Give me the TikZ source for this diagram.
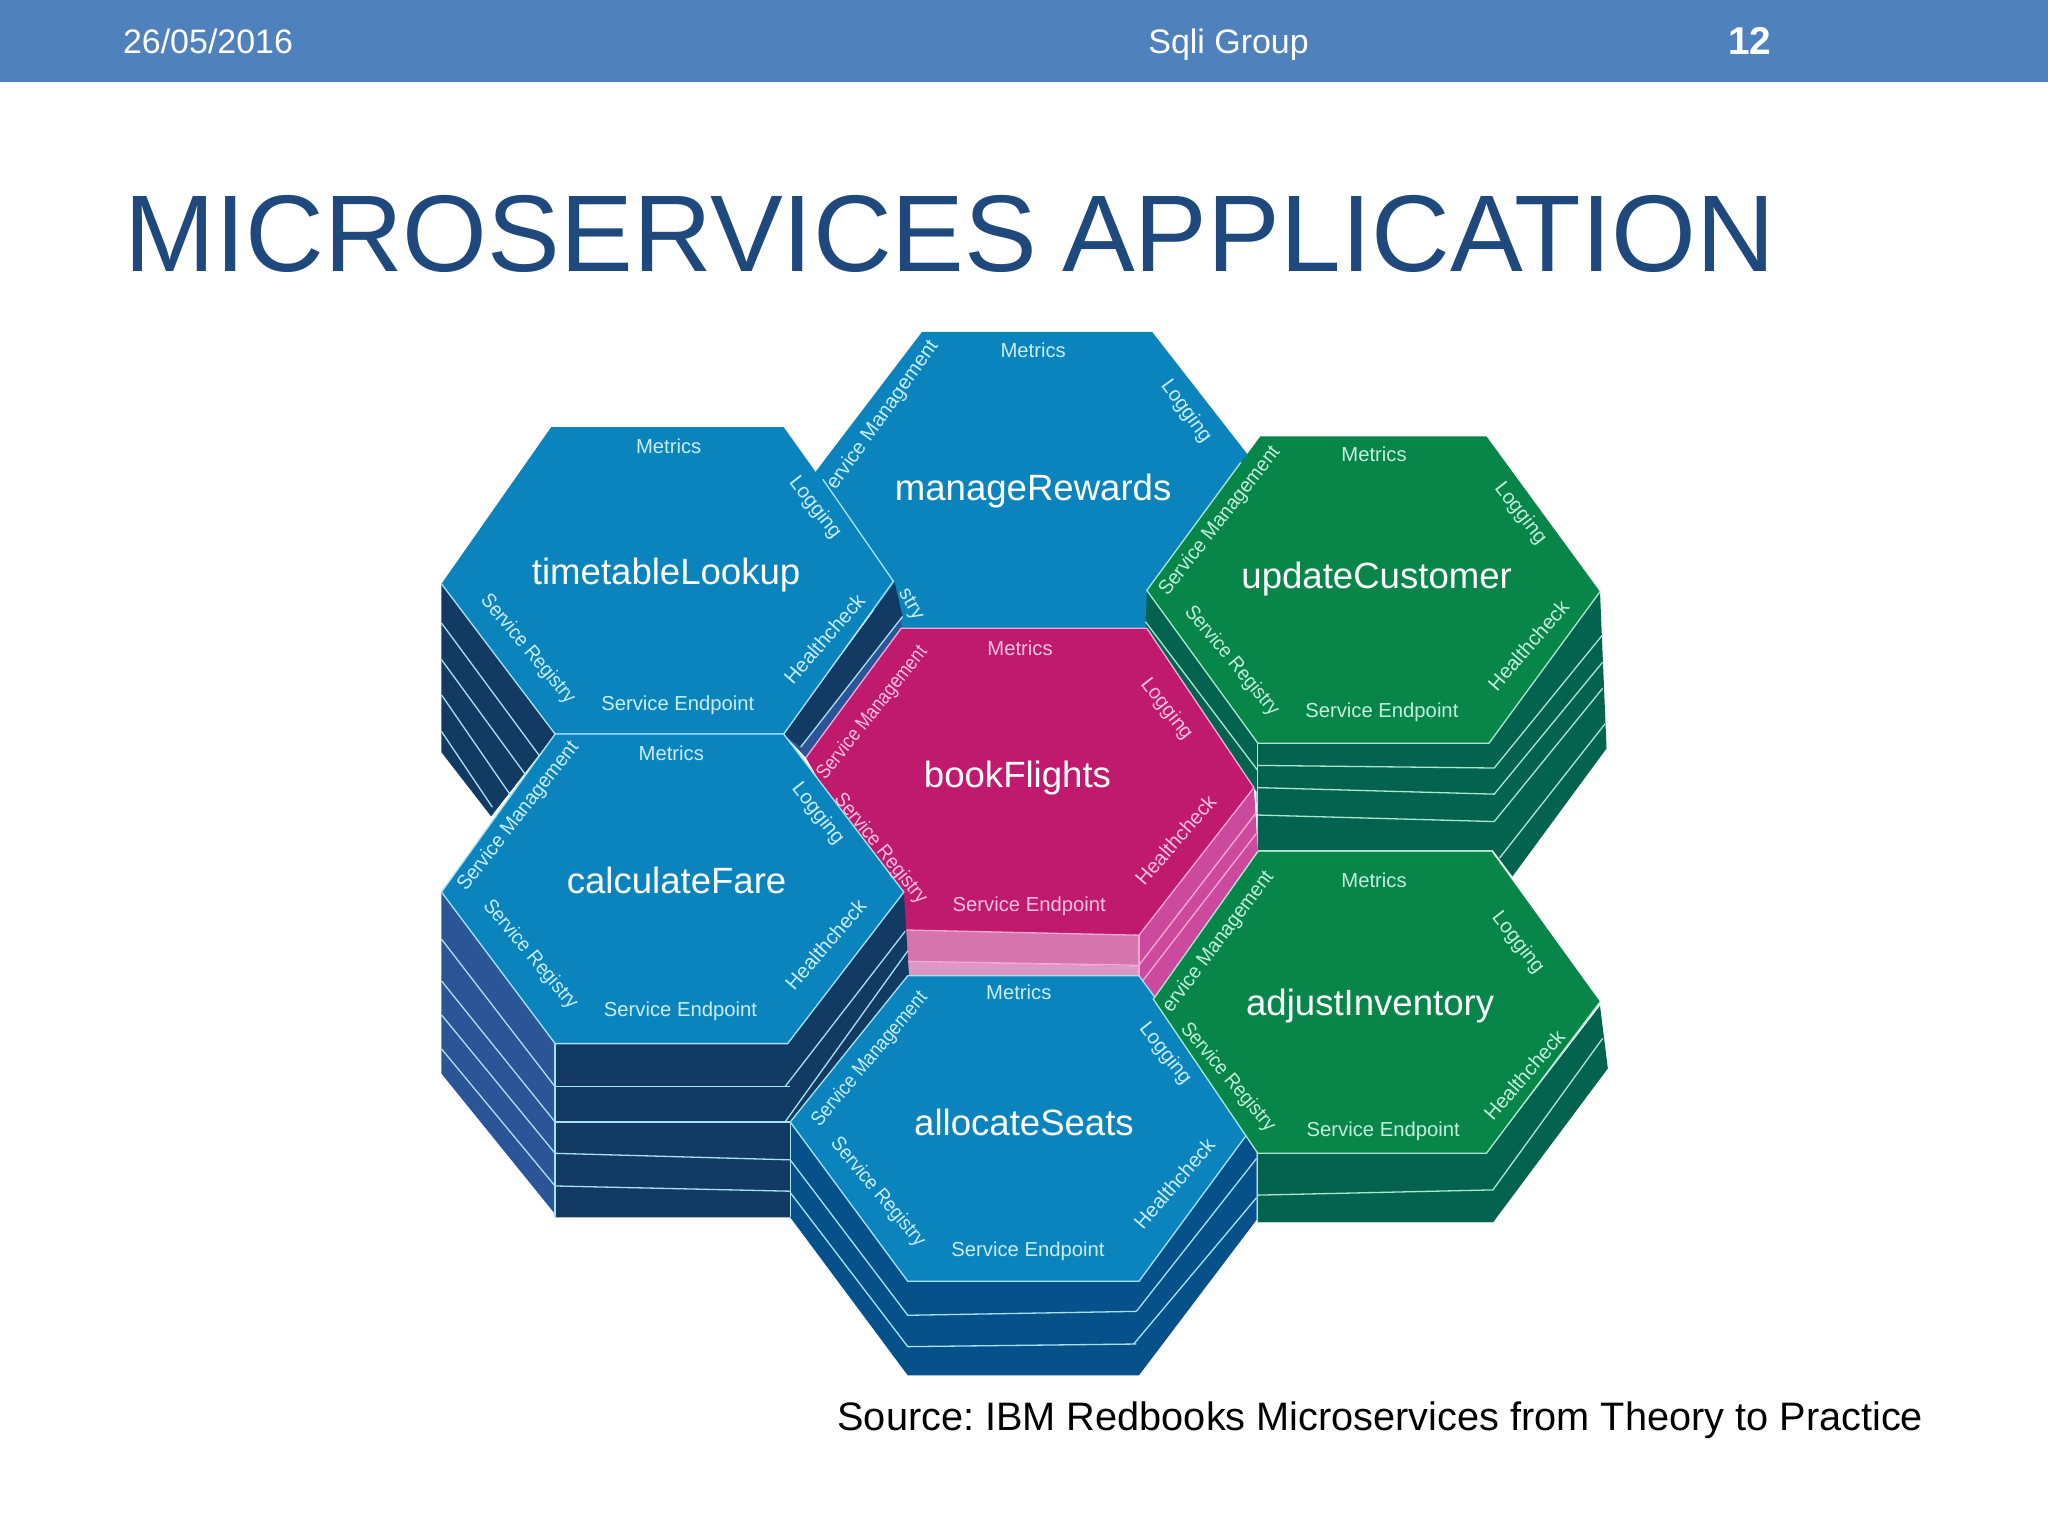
\documentclass[tikz,border=0pt]{standalone}
\usepackage{fontspec}
\setmainfont{Liberation Sans}
\newfontfamily\titlefont[WordSpace=0.82]{Liberation Sans}
\definecolor{bandblue}{HTML}{4F81BD}
\definecolor{titleblue}{HTML}{1F497D}
\definecolor{hexblue}{HTML}{0B84BD}
\definecolor{hexnavy}{HTML}{133A63}
\definecolor{hexslate}{HTML}{2B5596}
\definecolor{hexdeep}{HTML}{07518B}
\definecolor{hexgreen}{HTML}{08864A}
\definecolor{hexteal}{HTML}{04634F}
\definecolor{hexpink}{HTML}{BF1A6D}
\definecolor{pinkside}{HTML}{CC4A9E}
\definecolor{pinkfront}{HTML}{D574AD}
\definecolor{pinklow}{HTML}{DB97C5}
\definecolor{rimblue}{HTML}{A5E2F2}
\definecolor{rimgreen}{HTML}{A8E8D0}
\definecolor{rimpink}{HTML}{F7A8D8}
\tikzset{
	rim/.style={draw=rimblue,line width=1pt},
	rimg/.style={draw=rimgreen,line width=1pt},
	rimp/.style={draw=rimpink,line width=1pt},
	svcname/.style={text=white,font=\fontsize{28}{30}\selectfont,inner sep=0pt},
	svcpart/.style={text=rimblue!60!white,font=\fontsize{15.5}{17}\selectfont,inner sep=0pt},
	svcpartg/.style={svcpart,text=rimgreen!70!white},
	svcpartp/.style={svcpart,text=rimpink!70!white},
}
\begin{document}
\begin{tikzpicture}[x=1pt,y=-1pt]
	\useasboundingbox (0,0) rectangle (1568,1176);
	%% header band and title
	\fill[bandblue] (0,0) rectangle (1568,62.5);
	\node[text=white,font=\fontsize{26}{28}\selectfont,inner sep=0pt,anchor=base west] (date) at (94,41) {26/05/2016};
	\node[text=white,font=\fontsize{26}{28}\selectfont,inner sep=0pt,anchor=base west] (group) at (879,41) {Sqli Group};
	\node[text=white,font=\fontsize{29.7}{31}\selectfont\bfseries,inner sep=0pt,anchor=base west] (page) at (1323,42) {12};
	\node[text=titleblue,font=\titlefont\fontsize{83.5}{90}\selectfont,inner sep=0pt,anchor=base west] (title) at (95,208) {MICROSERVICES APPLICATION};
	\node[text=black,font=\frenchspacing\fontsize{30.4}{33}\selectfont,inner sep=0pt,anchor=base west] (source) at (641,1095) {Source: IBM Redbooks Microservices from Theory to Practice};

	%% manageRewards
	\fill[hexblue] (706,254) -- (882,254) -- (970,367) -- (880,485) -- (680,490) -- (620,367) -- cycle;
	\node[svcpart] (mr1) at (791,268) {Metrics};
	\node[svcpart,rotate=-54] (mr2) at (908,315) {Logging};
	\node[svcpart,rotate=54.6] (mr3) at (676,318) {ervice Management};
	\node[svcname] (mr4) at (791,376) {manageRewards};
	\node[svcpart,rotate=-60] (mr5) at (697,463) {stry};

	%% updateCustomer
	\fill[hexteal] (878,452) -- (877,484) -- (962,606) -- (963,651) -- (1143,651) -- (1158,671) -- (1230,573) -- (1225,453) -- cycle;
	\foreach \ya/\yb/\yc in {586/588/486,603/608/507,624/629/527}
		\draw[rimg] (963,\ya) -- (1144,\yb) -- (1227,\yc);
	\draw[rimg] (1148,657) -- (1229,554);
	\draw[rimg] (877,476) -- (963,590);
	\fill[hexgreen] (965,334) -- (1138,334) -- (1225,453) -- (1140,569) -- (963,569) -- (878,452) -- cycle;
	\draw[rimg] (950,354) -- (878,452) -- (963,569) -- (1140,569) -- (1225,453);
	\draw[rimg] (963,569) -- (963,651) -- (1143,651);
	\node[svcpartg] (uc1) at (1052,348) {Metrics};
	\node[svcpartg,rotate=-52] (uc2) at (1164,393) {Logging};
	\node[svcpartg,rotate=52,xscale=.96] (uc3) at (934,399) {Service Management};
	\node[svcname] (uc4) at (1054,443) {updateCustomer};
	\node[svcpartg,rotate=-50,xscale=.92] (uc5) at (943,506) {Service Registry};
	\node[svcpartg] (uc6) at (1058,545) {Service Endpoint};
	\node[svcpartg,rotate=49] (uc7) at (1170,494) {Healthcheck};

	%% timetableLookup
	\fill[hexnavy] (338,447) -- (338,576) -- (376,625) -- (425,562) -- cycle;
	\foreach \ya/\xb/\yb in {477/417/584,505/403/594,532/391/609,560/377/618}
		\draw[rim] (338,\ya) -- (\xb,\yb);
	\fill[hexslate] (685,446) -- (691,482) -- (617,580) -- (600,562) -- cycle;
	\fill[hexnavy] (685,446) -- (691,472) -- (613,572) -- (600,562) -- cycle;
	\draw[rim] (691,472) -- (613,572);
	\fill[hexblue] (422,327) -- (600,327) -- (684,445) -- (600,562) -- (425,562) -- (338,447) -- cycle;
	\draw[rim] (630,367) -- (684,445) -- (600,562) -- (425,562) -- (338,447);
	\node[svcpart] (tl1) at (512,342) {Metrics};
	\node[svcpart,rotate=-52] (tl2) at (624,389) {Logging};
	\node[svcname] (tl3) at (510,440) {timetableLookup};
	\node[svcpart,rotate=-50,xscale=.92] (tl4) at (404,497) {Service Registry};
	\node[svcpart] (tl5) at (519,540) {Service Endpoint};
	\node[svcpart,rotate=49] (tl6) at (631,489) {Healthcheck};

	%% bookFlights
	\fill[pinkside] (872,716) -- (960,603) -- (963,651) -- (883,765) -- (872,747) -- cycle;
	\fill[pinkfront] (693,712) -- (872,716) -- (872,740) -- (695,736) -- cycle;
	\fill[pinklow] (695,736) -- (872,740) -- (872,747) -- (695,747) -- cycle;
	\draw[rimp] (695,736) -- (872,739) -- (962,622);
	\draw[rimp] (874,752) -- (962,638);
	\fill[hexpink] (690,481) -- (878,481) -- (960,603) -- (872,716) -- (693,712) -- (617,580) -- cycle;
	\draw[rimp] (617,580) -- (690,481) -- (878,481) -- (960,603) -- (872,716) -- (693,712);
	\draw[rimp] (872,716) -- (872,747);

	%% calculateFare
	\fill[hexslate] (338,683) -- (338,822) -- (427,932) -- (427,799) -- cycle;
	\foreach \ya/\yb in {719/832,751/859,777/883,803/908}
		\draw[rim] (338,\ya) -- (425,\yb);
	\fill[hexnavy] (425,799) -- (425,932) -- (606,932) -- (606,862) -- (696,748) -- (692,683) -- (603,799) -- cycle;
	\foreach \ya/\yb in {832/832,859/859,883/888,908/912}
		\draw[rim] (425,\ya) -- (605,\yb);
	\draw[rim] (601,832) -- (693,713);
	\draw[rim] (601,859) -- (695,728);
	\fill[hexblue] (425,562) -- (600,562) -- (692,683) -- (603,799) -- (425,799) -- (338,683) -- cycle;
	\draw[rim] (425,562) -- (600,562) -- (692,683) -- (603,799) -- (425,799) -- (338,683) -- cycle;
	\draw[rim] (425,799) -- (425,932);
	\node[svcpart] (cf1) at (514,577) {Metrics};
	\node[svcpart,rotate=-52] (cf2) at (626,623) {Logging};
	\node[svcpart,rotate=52,xscale=.96] (cf3) at (397,625) {Service Management};
	\node[svcname] (cf4) at (518,674) {calculateFare};
	\node[svcpart,rotate=-50,xscale=.92] (cf5) at (406,731) {Service Registry};
	\node[svcpart] (cf6) at (521,774) {Service Endpoint};
	\node[svcpart,rotate=49] (cf7) at (632,723) {Healthcheck};

	% labels of bookFlights come after calculateFare
	\node[svcpartp] (bf1) at (781,496) {Metrics};
	\node[svcpartp,rotate=-52] (bf2) at (893,543) {Logging};
	\node[svcpartp,rotate=51.5,xscale=.86] (bf3) at (668,546) {Service Management};
	\node[svcname] (bf4) at (779,596) {bookFlights};
	\node[svcpartp,rotate=-51,xscale=.92] (bf5) at (674,650) {Service Registry};
	\node[svcpartp] (bf6) at (788,694) {Service Endpoint};
	\node[svcpartp,rotate=49] (bf7) at (900,643) {Healthcheck};

	%% allocateSeats
	\fill[hexdeep] (605,859) -- (605,932) -- (695,1053) -- (872,1053) -- (962,934) -- (962,871) -- (958,860) -- (872,981) -- (695,981) -- cycle;
	\foreach \ya/\yb/\yc in {888/1007/1004,913/1031/1029}
		\draw[rim] (605,\ya) -- (695,\yb) -- (870,\yc);
	\draw[rim] (870,1004) -- (962,887);
	\draw[rim] (868,1029) -- (962,917);
	\fill[hexblue] (695,747) -- (872,747) -- (958,864) -- (872,981) -- (695,981) -- (605,859) -- cycle;
	\draw[rim] (695,747) -- (872,747) -- (958,864) -- (872,981) -- (695,981) -- (605,859) -- cycle;
	\draw[rim] (605,859) -- (605,932);
	\node[svcpart] (as1) at (780,760) {Metrics};
	\node[svcpart,rotate=-52] (as2) at (892,807) {Logging};
	\node[svcpart,rotate=50,xscale=.88] (as3) at (666,811) {Service Management};
	\node[svcname] (as4) at (784,859) {allocateSeats};
	\node[svcpart,rotate=-50,xscale=.92] (as5) at (672,913) {Service Registry};
	\node[svcpart] (as6) at (787,958) {Service Endpoint};
	\node[svcpart,rotate=49] (as7) at (899,906) {Healthcheck};

	%% adjustInventory
	\fill[hexteal] (963,883) -- (963,936) -- (1143,936) -- (1231,818) -- (1225,770) -- (1138,883) -- cycle;
	\draw[rimg] (963,915) -- (1143,911) -- (1227,795);
	\fill[hexgreen] (963,652) -- (1142,652) -- (1225,767) -- (1138,883) -- (963,883) -- (883,765) -- cycle;
	\draw[rimg] (963,652) -- (883,765) -- (963,883) -- (1138,883) -- (1225,767);
	\draw[rimg] (963,883) -- (963,936) -- (1143,936);
	\node[svcpartg] (ai1) at (1052,674) {Metrics};
	\node[svcpartg,rotate=-52] (ai2) at (1162,722) {Logging};
	\node[svcpartg,rotate=53,xscale=.96] (ai3) at (933,721) {ervice Management};
	\node[svcname] (ai4) at (1049,770) {adjustInventory};
	\node[svcpartg,rotate=-50,xscale=.92] (ai5) at (940,825) {Service Registry};
	\node[svcpartg] (ai6) at (1059,866) {Service Endpoint};
	\node[svcpartg,rotate=49] (ai7) at (1167,823) {Healthcheck};
\end{tikzpicture}
\end{document}
